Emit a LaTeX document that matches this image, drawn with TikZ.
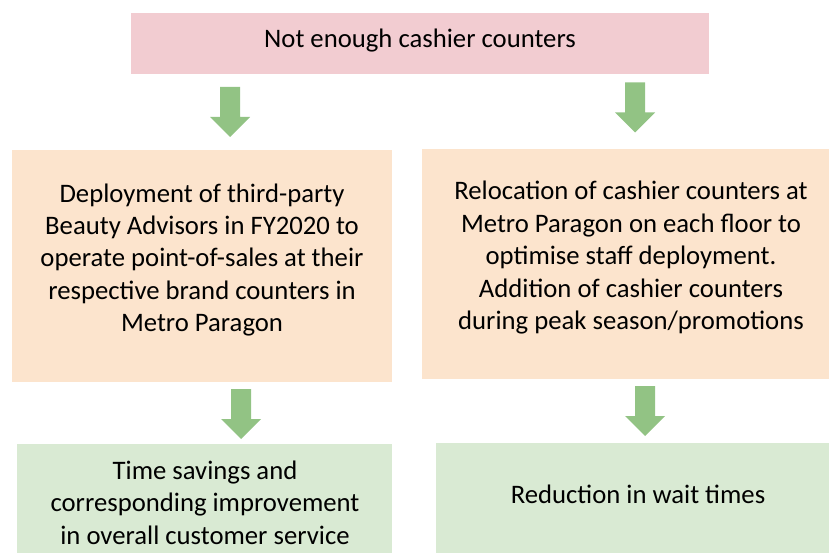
\documentclass[tikz,border=0pt]{standalone}
\usepackage{fontspec}
\setmainfont{Carlito}
\definecolor{probpink}{HTML}{F2CCD1}
\definecolor{actpeach}{HTML}{FCE4CD}
\definecolor{resgreen}{HTML}{D9EAD3}
\definecolor{arrowgreen}{HTML}{92C384}
\begin{document}
\begin{tikzpicture}[x=1pt,y=-1pt,
  panel/.style={inner sep=0pt,outer sep=0pt,draw=none,anchor=north west},
  % multi-line texts are placed by the baseline of their last line
  words/.style={inner sep=0pt,outer sep=0pt,align=center,anchor=base,
    font=\fontsize{26.7}{32.4}\selectfont},
  downarrow/.pic={\fill[arrowgreen] (-10,0) -- (10,0) -- (10,30) -- (20,30)
    -- (0,50) -- (-20,30) -- (-10,30) -- cycle;}]
\useasboundingbox (0,0) rectangle (829,553);

% boxes
\node[panel,fill=probpink,minimum width=578pt,minimum height=61.5pt] (problem) at (131,13) {};
\node[panel,fill=actpeach,minimum width=413pt,minimum height=229.5pt] (actright) at (422,149) {};
\node[panel,fill=actpeach,minimum width=380pt,minimum height=231.5pt] (actleft) at (12,150) {};
\node[panel,fill=resgreen,minimum width=375pt,minimum height=116pt] (resleft) at (17,444) {};
\node[panel,fill=resgreen,minimum width=399pt,minimum height=117pt] (resright) at (436,443) {};

% texts
\node[words] (tproblem) at (420,48) {Not enough cashier counters};
\node[words] (tactleft) at (202,331.7) {Deployment of third-party\\Beauty Advisors in FY2020 to\\operate point-of-sales at their\\respective brand counters in\\Metro Paragon};
\node[words] (tactright) at (631,329.5) {Relocation of cashier counters at\\Metro Paragon on each floor to\\optimise staff deployment.\\Addition of cashier counters\\during peak season/promotions};
\node[words] (tresleft) at (205,544) {Time savings and\\corresponding improvement\\in overall customer service};
\node[words] (tresright) at (638,503) {Reduction in wait times};

% arrows
\pic at (230,87) {downarrow};
\pic at (635,82.5) {downarrow};
\pic at (241,389) {downarrow};
\pic at (645,386) {downarrow};
\end{tikzpicture}
\end{document}
